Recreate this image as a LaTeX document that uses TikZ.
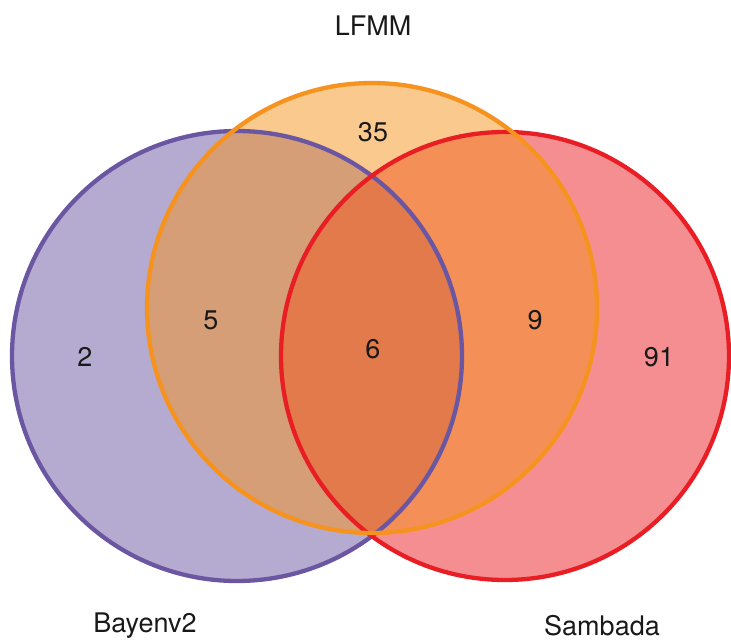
\documentclass[tikz,border=0pt]{standalone}
\usepackage{fontspec}
\setmainfont{TeX Gyre Heros}
\definecolor{cpur}{RGB}{107,86,162}
\definecolor{cora}{RGB}{246,147,30}
\definecolor{cred}{RGB}{233,30,36}
\definecolor{ctxt}{RGB}{25,25,25}
\begin{document}
\begin{tikzpicture}[x=1pt,y=-1pt,
  setfill/.style={fill=#1,fill opacity=0.5,draw=none},
  setline/.style={draw=#1,line width=4.3pt},
  lab/.style={font=\fontsize{27}{30}\selectfont,text=ctxt,inner sep=0pt,anchor=center}]
\useasboundingbox (0,0) rectangle (731,642);
\coordinate (cP) at (237,356);
\coordinate (cR) at (505,356);
\coordinate (cO) at (372,308);
\fill[setfill=cpur] (cP) circle[radius=225];
\fill[setfill=cred] (cR) circle[radius=224];
\fill[setfill=cora] (cO) circle[radius=225];
\draw[setline=cpur] (cP) circle[radius=225];
\draw[setline=cred] (cR) circle[radius=224];
\draw[setline=cora] (cO) circle[radius=225];
\node[lab] (nLF) at (373,26) {LFMM};
\node[lab] (nBa) at (145,626) {Bayenv2};
\node[lab] (nSa) at (602,626) {Sambada};
\node[lab] (n35) at (373,132) {35};
\node[lab] (n2) at (85,357) {2};
\node[lab] (n5) at (211,320) {5};
\node[lab] (n6) at (373,349) {6};
\node[lab] (n9) at (535,320) {9};
\node[lab] (n91) at (659,357) {91};
\end{tikzpicture}
\end{document}
